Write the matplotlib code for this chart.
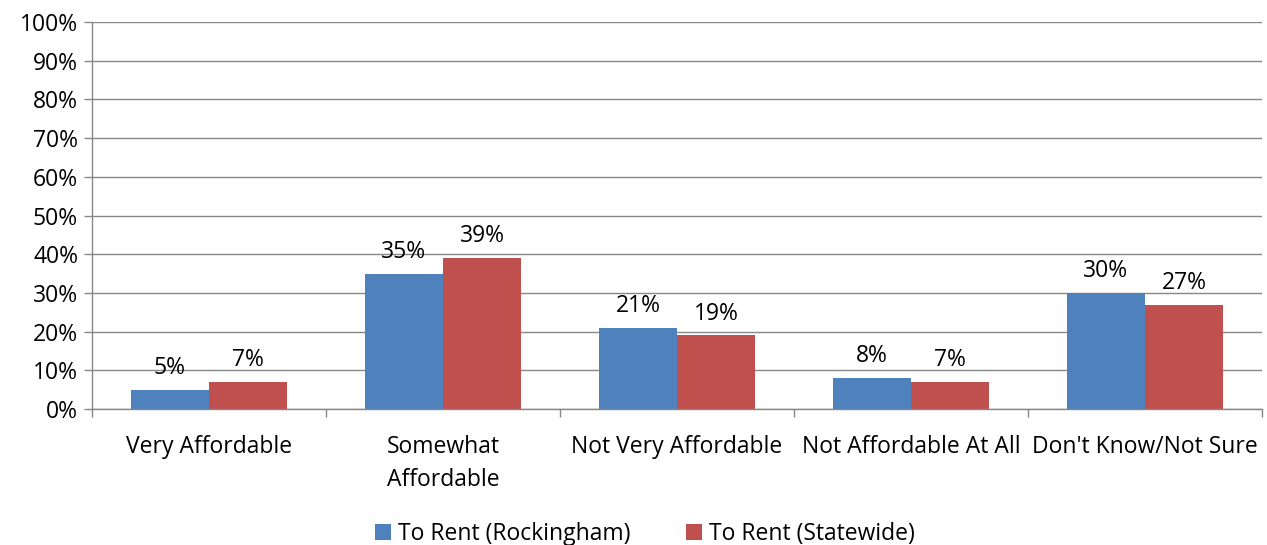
import matplotlib.pyplot as plt
import numpy as np

plt.rcParams['font.family'] = ['Open Sans', 'DejaVu Sans']

categories = ['Very Affordable', 'Somewhat\nAffordable', 'Not Very Affordable',
              'Not Affordable At All', "Don't Know/Not Sure"]
rockingham = [5, 35, 21, 8, 30]
statewide = [7, 39, 19, 7, 27]
series_names = ['To Rent (Rockingham)', 'To Rent (Statewide)']

blue = '#4F81BD'
red = '#C0504D'
axis_gray = '#878787'
fs = 16.5

fig = plt.figure(figsize=(12.67, 5.45), dpi=100)
ax = fig.add_axes([0.0726, 0.2495, 0.9234, 0.7101])

x = np.arange(len(categories))
w = 1 / 3
b1 = ax.bar(x - w / 2, rockingham, w, color=blue, label=series_names[0])
b2 = ax.bar(x + w / 2, statewide, w, color=red, label=series_names[1])

for bars, vals in ((b1, rockingham), (b2, statewide)):
    for rect, v in zip(bars, vals):
        ax.text(rect.get_x() + rect.get_width() / 2, v + 2.5, f'{v}%',
                ha='center', va='bottom', fontsize=fs)

ax.set_xlim(-0.5, len(categories) - 0.5)
ax.set_ylim(0, 100)
ax.set_yticks(range(0, 101, 10))
ax.set_yticklabels([f'{t}%' for t in range(0, 101, 10)], fontsize=fs)
ax.yaxis.grid(True, color=axis_gray, linewidth=1)
ax.set_axisbelow(True)

ax.set_xticks(x)
ax.set_xticklabels(categories, fontsize=fs, va='top', linespacing=1.45)
ax.tick_params(axis='x', length=0, pad=19)
ax.set_xticks(np.arange(-0.5, len(categories) + 0.5, 1), minor=True)
ax.tick_params(axis='x', which='minor', length=6, color=axis_gray, width=1, direction='out')
ax.tick_params(axis='y', length=6, color=axis_gray, width=1, direction='out', pad=4)

for s in ['top', 'right']:
    ax.spines[s].set_visible(False)
for s in ['left', 'bottom']:
    ax.spines[s].set_color(axis_gray)
    ax.spines[s].set_linewidth(1)

fig.legend(handles=[b1, b2], loc='center', bbox_to_anchor=(0.509, 0.02),
           ncol=2, frameon=False, fontsize=fs, handlelength=0.7, handleheight=0.7,
           handletextpad=0.3, columnspacing=2.4)

fig.savefig('out.png', dpi=100)
